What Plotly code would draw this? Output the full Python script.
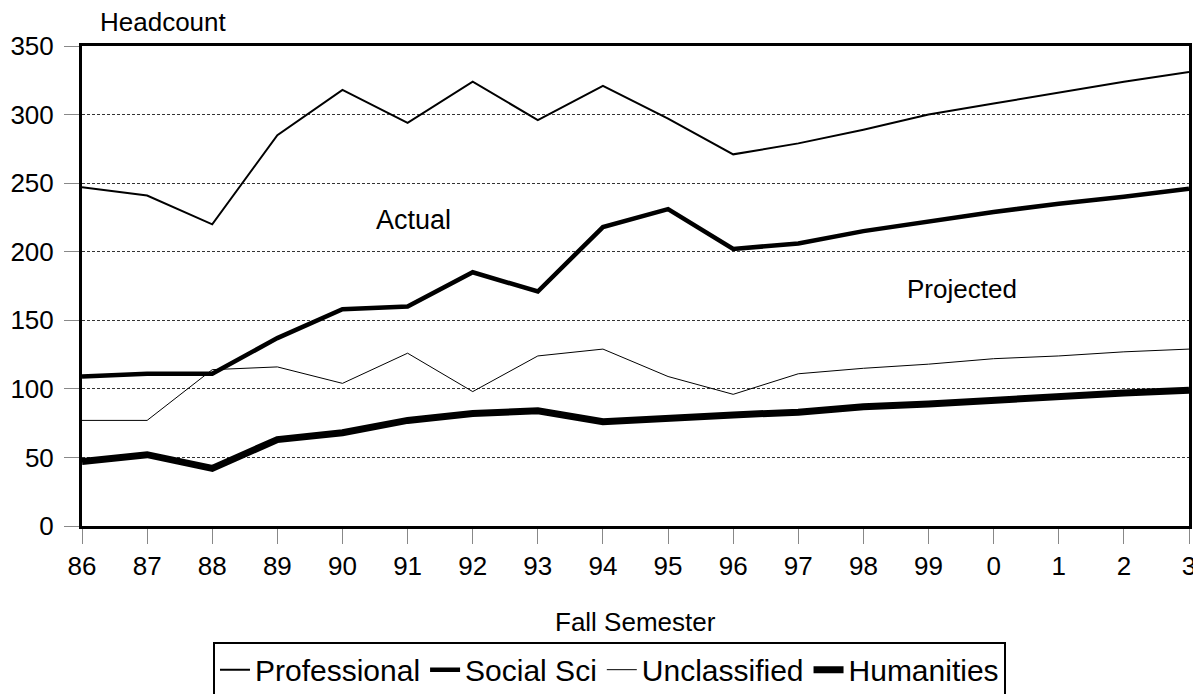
import plotly.graph_objects as go

years = ["86", "87", "88", "89", "90", "91", "92", "93", "94", "95", "96",
         "97", "98", "99", "0", "1", "2", "3"]
professional = [247, 241, 220, 285, 318, 294, 324, 296, 321, 297, 271,
                279, 289, 300, 308, 316, 324, 331]
social_sci = [109, 111, 111, 137, 158, 160, 185, 171, 218, 231, 202,
              206, 215, 222, 229, 235, 240, 246]
unclassified = [77, 77, 114, 116, 104, 126, 98, 124, 129, 109, 96,
                111, 115, 118, 122, 124, 127, 129]
humanities = [47, 52, 42, 63, 68, 77, 82, 84, 76, 79, 81,
              83, 87, 89, 92, 95, 97, 99]

series = [
    ("Professional", professional, 2),
    ("Social Sci", social_sci, 4.5),
    ("Unclassified", unclassified, 1),
    ("Humanities", humanities, 7),
]

FONT = "Liberation Sans, Arial, sans-serif"

fig = go.Figure()
for name, vals, w in series:
    fig.add_trace(go.Scatter(x=years, y=vals, name=name, mode="lines",
                             line=dict(color="black", width=w)))

fig.add_shape(type="line", xref="x", yref="paper", x0="96", x1="96", y0=0, y1=1,
              line=dict(color="black", width=3))

fig.update_layout(
    width=1193, height=686,
    margin=dict(l=74, r=12, t=38, b=168, autoexpand=False),
    paper_bgcolor="white", plot_bgcolor="white",
    font=dict(family=FONT, size=26, color="black"),
    showlegend=True,
    legend=dict(orientation="h", x=0.4765, xanchor="center", y=-0.241, yanchor="top",
                bordercolor="black", borderwidth=2, font=dict(size=30),
                itemwidth=30, tracegroupgap=0),
    xaxis=dict(type="category", range=[0, 17], showline=True, linecolor="black",
               linewidth=3, mirror=True, ticks="outside", ticklen=15,
               tickcolor="#888", tickwidth=1, showgrid=False,
               tickfont=dict(size=26)),
    yaxis=dict(range=[0, 350], dtick=50, showline=True, linecolor="black",
               linewidth=3, mirror=True, ticks="outside", ticklen=15,
               tickcolor="#888", tickwidth=1, showgrid=True, gridcolor="#333",
               griddash="3px,2px", gridwidth=1, zeroline=False,
               tickfont=dict(size=26), ticklabelstandoff=5),
    annotations=[
        dict(text="Headcount", xref="paper", yref="paper", x=0.0145, y=1.05,
             xanchor="left", yanchor="middle", showarrow=False, font=dict(size=26)),
        dict(text="Fall Semester", xref="paper", yref="paper", x=0.5, y=-0.2,
             xanchor="center", yanchor="middle", showarrow=False, font=dict(size=26)),
        dict(text="Actual", xref="paper", yref="paper", x=0.2999, y=0.6375,
             xanchor="center", yanchor="middle", showarrow=False, font=dict(size=27)),
        dict(text="Projected", xref="paper", yref="paper", x=0.795, y=0.494,
             xanchor="center", yanchor="middle", showarrow=False, font=dict(size=26)),
    ],
)

fig.write_html("out.html")
